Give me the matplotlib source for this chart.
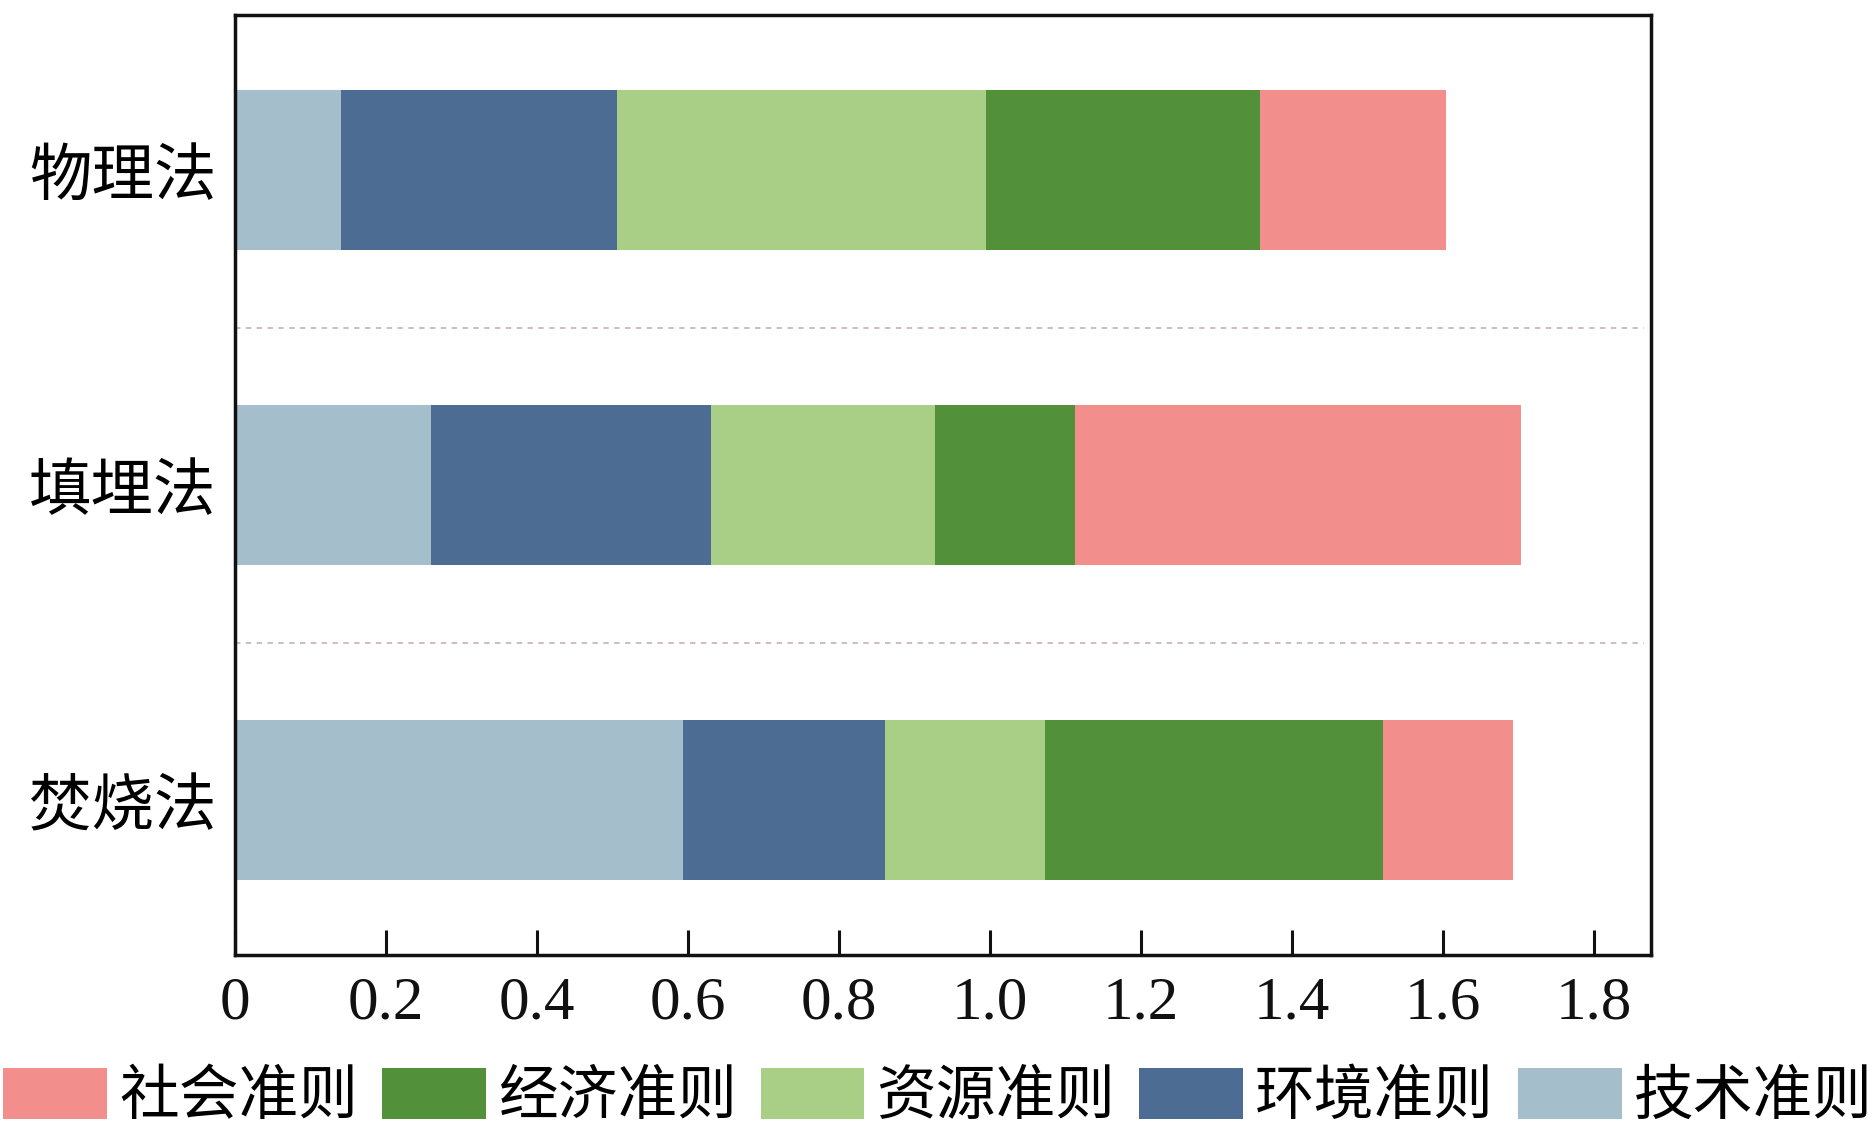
import numpy as np
import matplotlib
matplotlib.use('Agg')
from matplotlib import pyplot as plt

# 数据
methods = ['物理法', '填埋法', '焚烧法']
criteria = ['技术准则', '环境准则', '资源准则', '经济准则', '社会准则']
tech = [0.141, 0.260, 0.594]
env = [0.365, 0.371, 0.268]
res = [0.489, 0.296, 0.211]
econ = [0.363, 0.186, 0.448]
soc = [0.247, 0.591, 0.172]
colors = ['#A4BFCB', '#4C6C94', '#A9CF87', '#52903A', '#F28E8B']
xticks = [0, 0.2, 0.4, 0.6, 0.8, 1.0, 1.2, 1.4, 1.6, 1.8]
xtick_labels = ['0', '0.2', '0.4', '0.6', '0.8', '1.0', '1.2', '1.4', '1.6', '1.8']

plt.rcParams['font.family'] = ['Noto Sans CJK SC', 'DejaVu Sans']

fig = plt.figure(figsize=(18.76, 11.36), dpi=100)
ax = fig.add_axes([0.1251, 0.1593, 0.7550, 0.8275])

ypos = np.arange(len(methods))[::-1]
series = [tech, env, res, econ, soc]
left = np.zeros(len(methods))
handles = []
for vals, c, name in zip(series, colors, criteria):
    b = ax.barh(ypos, vals, left=left, height=0.508, color=c, linewidth=0, label=name)
    handles.append(b)
    left += np.array(vals)

# 分隔虚线
for y in [0.5, 1.5]:
    ax.axhline(y, xmin=0, xmax=0.995, color='#cbb8b8', linestyle=(0, (3, 3)), linewidth=1.3)

ax.set_xlim(0, 1.876)
ax.set_ylim(-0.492, 2.492)
ax.set_yticks(ypos)
ax.set_yticklabels(methods, fontsize=45)
ax.set_xticks(xticks)
ax.set_xticklabels(xtick_labels, family='Liberation Serif', fontsize=44)
ax.tick_params(axis='x', direction='in', length=18, width=2.2, pad=15, colors='#111111')
ax.tick_params(axis='y', length=0, pad=13)
for lab in ax.get_yticklabels():
    lab.set_y(lab.get_position()[1] + 0.02)
for s in ax.spines.values():
    s.set_linewidth(2.5)
    s.set_color('#111111')

leg = fig.legend(handles[::-1], criteria[::-1], loc='center', bbox_to_anchor=(0.5, 0.034),
                 ncol=5, frameon=False, fontsize=43, handlelength=1.74, handleheight=0.93,
                 handletextpad=0.2, columnspacing=0.4, borderpad=0, borderaxespad=0)

fig.savefig('out.png', dpi=100)
